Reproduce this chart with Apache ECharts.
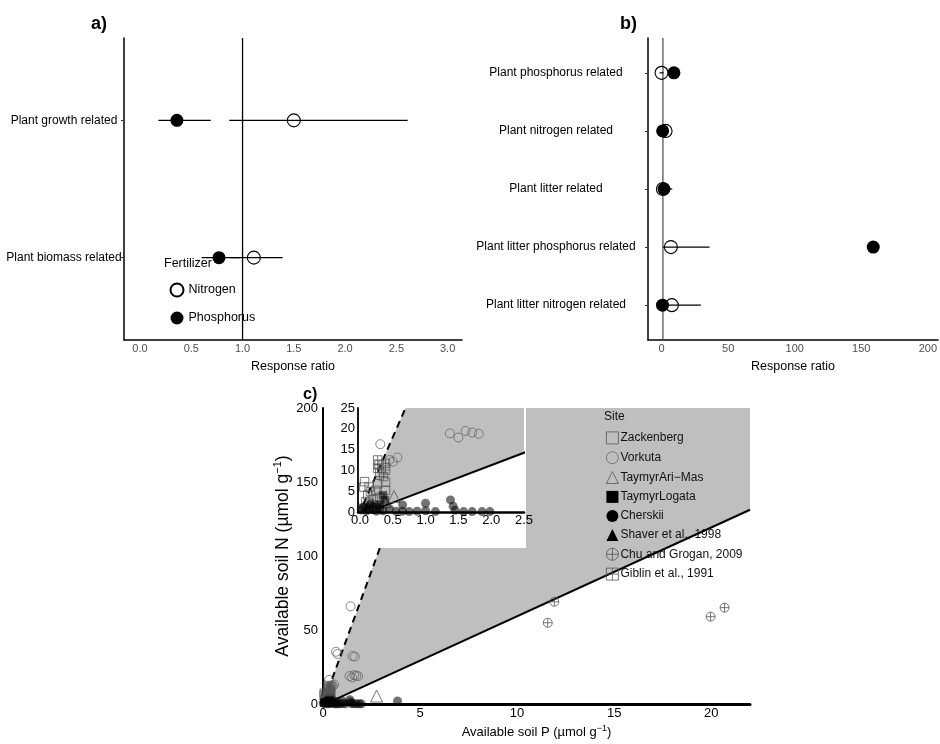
<!DOCTYPE html>
<html>
<head>
<meta charset="utf-8">
<script src="https://cdn.jsdelivr.net/npm/echarts@6/dist/echarts.min.js"></script>
<style>
html,body{margin:0;padding:0;background:#fff;}
#chart{width:940px;height:744px;}
</style>
</head>
<body>
<div id="chart"></div>
<script>
// ================= DATA =================
// Panel a (index 0 -> bottom row)
const catsA = ['Plant biomass related', 'Plant growth related'];
const nitrogenA = [1.11, 1.50];
const nitrogenALo = [0.88, 0.87];
const nitrogenAHi = [1.39, 2.61];
const phosphorusA = [0.77, 0.36];
const phosphorusALo = [0.60, 0.18];
const phosphorusAHi = [0.97, 0.69];
const ticksA = [0, 0.5, 1, 1.5, 2, 2.5, 3];
const refA = 1;

// Panel b (index 0 -> bottom row)
const catsB = ['Plant litter nitrogen related', 'Plant litter phosphorus related', 'Plant litter related', 'Plant nitrogen related', 'Plant phosphorus related'];
const nitrogenB = [7.7, 7.0, 1.0, 3.0, 0.0];
const nitrogenBLo = [0.5, 1.0, 0.0, 1.5, -1.5];
const nitrogenBHi = [29.5, 36.0, 2.0, 4.5, 1.5];
const phosphorusB = [0.7, 159, 1.8, 0.8, 9.3];
const phosphorusBLo = [0.0, 158, -1.0, 0.0, 8.0];
const phosphorusBHi = [1.5, 160, 8.0, 1.6, 10.5];
const ticksB = [0, 50, 100, 150, 200];
const refB = 1;

// Panel c : available soil P (x) vs available soil N (y)
const siteNames = ['Zackenberg', 'Vorkuta', 'TaymyrAri\u2212Mas', 'TaymyrLogata', 'Cherskii', 'Shaver et al., 1998', 'Chu and Grogan, 2009', 'Giblin et al., 1991'];
const zackenberg = [[0.07,7.3],[0.06,6.0],[0.14,6.0],[0.16,4.9],[0.24,5.2],[0.27,6.8],[0.39,7.2],[0.39,5.2],[0.12,4.1],[0.09,2.5],[0.20,3.0],[0.30,3.5]];
const vorkuta = [[0.31,16.3],[0.45,12.5],[0.50,12.1],[0.57,13.1],[0.67,35.3],[0.75,33.8],[1.42,66.0],[1.52,32.4],[1.64,32.0],[1.37,18.9],[1.50,17.9],[1.61,19.5],[1.71,19.1],[1.81,18.8]];
const taymyrAriMas = [[2.76,5.4],[0.52,3.7],[0.38,2.5]];
const taymyrLogata = [[0.35,4.0],[0.38,2.8],[0.30,1.8],[0.05,1.0],[0.15,0.8],[0.25,1.2]];
const cherskii = [[0.02,0.5],[0.06,1.2],[0.10,0.3],[0.15,1.8],[0.20,0.6],[0.25,0.2],[0.30,0.9],[0.35,0.3],[0.45,0.8],[0.55,0.2],[0.65,1.7],[0.65,0.2],[0.75,0.1],[0.87,0.2],[1.00,2.1],[1.00,0.3],[1.15,0.1],[1.38,2.9],[1.42,1.4],[1.45,0.4],[1.58,0.1],[1.71,0.1],[1.86,0.1],[1.98,0.1],[3.84,2.0]];
const shaver = [[0.12,1.5],[0.20,2.2]];
const chuGrogan = [[11.58,54.9],[11.92,69.1],[19.97,59.0],[20.69,65.1]];
const giblin = [[0.27,12.5],[0.29,11.3],[0.39,11.7],[0.39,10.1],[0.27,10.5],[0.30,9.5],[0.36,8.5]];
const siteData = [zackenberg, vorkuta, taymyrAriMas, taymyrLogata, cherskii, shaver, chuGrogan, giblin];

// N:P boundary lines (data space end points)
const dashedLineC = [[0.05, 1.8], [5.56, 200]];
const solidLineC = [[0.30, 1.05], [22, 131.25]];
// shaded region vertices
const shadeC = [[0.05, 1.8], [5.56, 200], [22, 200], [22, 131.25], [0.30, 1.05]];
const ticksCx = [0, 5, 10, 15, 20];
const ticksCy = [0, 50, 100, 150, 200];
const ticksInsetX = [0, 0.5, 1, 1.5, 2, 2.5];
const ticksInsetY = [0, 5, 10, 15, 20, 25];

// ================= FONTS =================
function fontAvailable(name) {
  const c = document.createElement('canvas').getContext('2d');
  const s = 'Plant litter phosphorus related 0123';
  c.font = '30px monospace'; const w1 = c.measureText(s).width;
  c.font = '30px serif'; const w2 = c.measureText(s).width;
  c.font = '30px "' + name + '", monospace'; const a = c.measureText(s).width;
  c.font = '30px "' + name + '", serif'; const b = c.measureText(s).width;
  return a !== w1 || b !== w2;
}
const hasNarrow = fontAvailable('Liberation Sans Narrow');
const NF = hasNarrow ? 'Liberation Sans Narrow' : 'Liberation Sans';
const ns = n => hasNarrow ? n : Math.round(n * 0.84 * 2) / 2;
const RF = 'Liberation Sans';

// ================= HELPERS =================
const SQ_PLUS = 'path://M-10,-10 L10,-10 L10,10 L-10,10 Z M-10,0 L10,0 M0,-10 L0,10';
const CI_PLUS = 'path://M0,-10 A10,10 0 1,1 0,10 A10,10 0 1,1 0,-10 Z M-10,0 L10,0 M0,-10 L0,10';
const siteStyle = [
  {symbol: 'rect', size: 8.5, itemStyle: {color: 'rgba(0,0,0,0)', borderColor: '#555', borderWidth: 0.8, opacity: 1}},
  {symbol: 'circle', size: 9, itemStyle: {color: 'rgba(0,0,0,0)', borderColor: '#666', borderWidth: 0.8, opacity: 1}},
  {symbol: 'triangle', size: 12, itemStyle: {color: 'rgba(0,0,0,0)', borderColor: '#555', borderWidth: 0.8, opacity: 1}},
  {symbol: 'rect', size: 8.5, itemStyle: {color: '#000', opacity: 0.55}},
  {symbol: 'circle', size: 9, itemStyle: {color: '#000', opacity: 0.55}},
  {symbol: 'triangle', size: 10, itemStyle: {color: '#000', opacity: 0.6}},
  {symbol: CI_PLUS, size: 9, itemStyle: {color: 'rgba(0,0,0,0)', borderColor: '#555', borderWidth: 0.8, opacity: 1}},
  {symbol: SQ_PLUS, size: 8.5, itemStyle: {color: 'rgba(0,0,0,0)', borderColor: '#555', borderWidth: 0.8, opacity: 1}}
];

function clipPoly(poly, ext) {
  // Sutherland-Hodgman against axis-aligned box in data space
  const [x0, x1, y0, y1] = ext;
  const edges = [
    [p => p[0] >= x0, (a, b) => { const t = (x0 - a[0]) / (b[0] - a[0]); return [x0, a[1] + t * (b[1] - a[1])]; }],
    [p => p[0] <= x1, (a, b) => { const t = (x1 - a[0]) / (b[0] - a[0]); return [x1, a[1] + t * (b[1] - a[1])]; }],
    [p => p[1] >= y0, (a, b) => { const t = (y0 - a[1]) / (b[1] - a[1]); return [a[0] + t * (b[0] - a[0]), y0]; }],
    [p => p[1] <= y1, (a, b) => { const t = (y1 - a[1]) / (b[1] - a[1]); return [a[0] + t * (b[0] - a[0]), y1]; }]
  ];
  let out = poly.slice();
  edges.forEach(([inside, inter]) => {
    const inp = out; out = [];
    for (let i = 0; i < inp.length; i++) {
      const cur = inp[i], prev = inp[(i + inp.length - 1) % inp.length];
      if (inside(cur)) { if (!inside(prev)) out.push(inter(prev, cur)); out.push(cur); }
      else if (inside(prev)) out.push(inter(prev, cur));
    }
  });
  return out;
}

function errSeries(name, gi, lo, hi, width) {
  return {
    type: 'custom', name: name, xAxisIndex: gi, yAxisIndex: gi, silent: true, z: 3,
    data: lo.map((l, i) => [l, i + 1, hi[i]]),
    renderItem: function (params, api) {
      const y = api.value(1);
      const a = api.coord([api.value(0), y]);
      const b = api.coord([api.value(2), y]);
      return {type: 'line', shape: {x1: a[0], y1: a[1], x2: b[0], y2: b[1]}, style: {stroke: '#000', lineWidth: width}};
    }
  };
}
function refLine(gi, x, ymin, ymax, color) {
  return {type: 'line', xAxisIndex: gi, yAxisIndex: gi, silent: true, z: 2, symbol: 'none',
    data: [[x, ymin], [x, ymax]], lineStyle: {color: color, width: 1.3}};
}
function pointSeries(name, gi, vals, filled) {
  return {type: 'scatter', name: name, xAxisIndex: gi, yAxisIndex: gi, z: filled ? 5 : 4, symbol: 'circle', symbolSize: 13,
    data: vals.map((v, i) => [v, i + 1]),
    itemStyle: filled ? {color: '#000', opacity: 1} : {color: 'rgba(0,0,0,0)', borderColor: '#000', borderWidth: 1.1, opacity: 1}};
}
function shadeSeries(gi, ext, z) {
  const poly = clipPoly(shadeC, ext);
  return {type: 'custom', xAxisIndex: gi, yAxisIndex: gi, silent: true, z: z, data: [[0, 0]],
    renderItem: function (params, api) {
      return {type: 'polygon', shape: {points: poly.map(p => api.coord(p))}, style: {fill: '#bfbfbf'}};
    }};
}
function boundSeries(gi, pts, dashed, z) {
  return {type: 'line', xAxisIndex: gi, yAxisIndex: gi, silent: true, z: z, symbol: 'none', data: pts,
    lineStyle: {color: '#000', width: 2, type: dashed ? [7, 5] : 'solid'}};
}

const baseAxis = (o) => Object.assign({
  type: 'value', splitLine: {show: false}, axisTick: {show: false},
  axisLine: {show: true, onZero: false, lineStyle: {color: '#000', width: 1.5}}
}, o);

const extC = [0, 22, 0, 200];
const extInset = [-0.03, 2.5, 0, 25];

const series = [];
// panel a
series.push(refLine(0, refA, 0.4, 2.6, '#000'));
series.push(errSeries('errNA', 0, nitrogenALo, nitrogenAHi, 1.4));
series.push(errSeries('errPA', 0, phosphorusALo, phosphorusAHi, 1.4));
series.push(pointSeries('Nitrogen', 0, nitrogenA, false));
series.push(pointSeries('Phosphorus', 0, phosphorusA, true));
// panel b
series.push(refLine(1, refB, 0.4, 5.6, '#555'));
series.push(errSeries('errNB', 1, nitrogenBLo, nitrogenBHi, 1.2));
series.push(errSeries('errPB', 1, phosphorusBLo, phosphorusBHi, 1.2));
series.push(pointSeries('Nitrogen', 1, nitrogenB, false));
series.push(pointSeries('Phosphorus', 1, phosphorusB, true));
// panel c main
series.push(shadeSeries(2, extC, 1));
series.push(boundSeries(2, dashedLineC, true, 2));
series.push(boundSeries(2, solidLineC, false, 2));
siteNames.forEach((n, i) => {
  const st = siteStyle[i];
  series.push({type: 'scatter', name: n, xAxisIndex: 2, yAxisIndex: 2, z: 3, symbol: st.symbol, symbolSize: st.size, itemStyle: st.itemStyle, data: siteData[i]});
});
// inset
series.push(shadeSeries(3, extInset, 11));
series.push(boundSeries(3, dashedLineC, true, 12));
series.push(boundSeries(3, solidLineC, false, 12));
siteNames.forEach((n, i) => {
  const st = siteStyle[i];
  series.push({type: 'scatter', name: n, xAxisIndex: 3, yAxisIndex: 3, z: 13, symbol: st.symbol, symbolSize: st.size, itemStyle: st.itemStyle, data: siteData[i], clip: true});
});

const tickLbl = (vals, fmt, size, fam, color, margin) => ({
  customValues: vals, formatter: fmt, fontSize: size, fontFamily: fam, color: color, margin: margin
});

const nameRich = {
  t: {fontSize: 13, fontFamily: RF, color: '#000', lineHeight: 17},
  s: {fontSize: 9, fontFamily: RF, color: '#000', verticalAlign: 'top', lineHeight: 9}
};
const nameRichY = {
  t: {fontSize: 17.5, fontFamily: RF, color: '#000', lineHeight: 21},
  s: {fontSize: 11, fontFamily: RF, color: '#000', verticalAlign: 'top', lineHeight: 11}
};

const option = {
  animation: false,
  backgroundColor: '#fff',
  grid: [
    {left: 124, top: 38, width: 338, height: 302},
    {left: 648, top: 38, width: 292, height: 302},
    {left: 323, top: 408, width: 427, height: 296},
    {left: 358, top: 408, width: 166, height: 104, z: 14}
  ],
  xAxis: [
    baseAxis({gridIndex: 0, min: -0.156, max: 3.14,
      axisLabel: tickLbl(ticksA, v => v.toFixed(1), ns(13), NF, '#4d4d4d', 3),
      name: 'Response ratio', nameLocation: 'middle', nameGap: 20,
      nameTextStyle: {fontSize: ns(15), fontFamily: NF, color: '#000'}}),
    baseAxis({gridIndex: 1, min: -10.2, max: 207.7,
      axisLabel: tickLbl(ticksB, v => String(v), ns(13), NF, '#4d4d4d', 3),
      name: 'Response ratio', nameLocation: 'middle', nameGap: 20,
      nameTextStyle: {fontSize: ns(15), fontFamily: NF, color: '#000'}}),
    baseAxis({gridIndex: 2, min: 0, max: 22,
      axisLine: {show: true, onZero: false, lineStyle: {color: '#000', width: 3}},
      axisLabel: tickLbl(ticksCx, v => String(v), 13, NF, '#000', 3),
      name: '{t|Available soil P (\u00b5mol g}{s|\u22121}{t|)}', nameLocation: 'middle', nameGap: 20,
      nameTextStyle: {rich: nameRich}}),
    baseAxis({gridIndex: 3, min: -0.03, max: 2.5, z: 14,
      axisLine: {show: true, onZero: false, lineStyle: {color: '#000', width: 2.5}},
      axisLabel: tickLbl(ticksInsetX, v => v.toFixed(1), 13, NF, '#000', 2)})
  ],
  yAxis: [
    baseAxis({gridIndex: 0, min: 0.4, max: 2.6,
      axisTick: {show: true, customValues: [1, 2], length: 3, lineStyle: {color: '#333'}},
      axisLabel: Object.assign(tickLbl([1, 2], v => catsA[Math.round(v) - 1], ns(14), NF, '#000', 60), {align: 'center'})}),
    baseAxis({gridIndex: 1, min: 0.4, max: 5.6,
      axisTick: {show: true, customValues: [1, 2, 3, 4, 5], length: 3, lineStyle: {color: '#333'}},
      axisLabel: Object.assign(tickLbl([1, 2, 3, 4, 5], v => catsB[Math.round(v) - 1], ns(14), NF, '#000', 92), {align: 'center'})}),
    baseAxis({gridIndex: 2, min: 0, max: 200,
      axisLine: {show: true, onZero: false, lineStyle: {color: '#000', width: 2}},
      axisLabel: tickLbl(ticksCy, v => String(v), 13, NF, '#000', 5),
      name: '{t|Available soil N (\u00b5mol g}{s|\u22121}{t|)}', nameLocation: 'middle', nameGap: 26, nameRotate: 90,
      nameTextStyle: {rich: nameRichY}}),
    baseAxis({gridIndex: 3, min: 0, max: 25, z: 14,
      axisLine: {show: true, onZero: false, lineStyle: {color: '#000', width: 1.8}},
      axisLabel: tickLbl(ticksInsetY, v => String(v), 13, NF, '#000', 3)})
  ],
  legend: [
    {left: 169.5, top: 282.5, padding: 0, orient: 'vertical', itemWidth: 13, itemHeight: 13, itemGap: 14, selectedMode: false,
      textStyle: {fontSize: ns(15), fontFamily: NF, color: '#000'},
      data: [{name: 'Nitrogen'}, {name: 'Phosphorus'}]},
    {left: 606, top: 431.5, padding: 0, orient: 'vertical', itemWidth: 12, itemHeight: 12, itemGap: 7, selectedMode: false, z: 20,
      textStyle: {fontSize: 12, fontFamily: RF, color: '#111', padding: [0, 0, 0, -3]},
      itemStyle: {borderWidth: 0.8},
      data: siteNames.map(n => ({name: n, itemStyle: {opacity: 1}}))}
  ],
  graphic: [
    {type: 'text', z: 20, left: 91, top: 15, style: {text: 'a)', font: 'bold 18px "' + NF + '"', fill: '#000'}},
    {type: 'text', z: 20, left: 620, top: 15, style: {text: 'b)', font: 'bold 18px "' + NF + '"', fill: '#000'}},
    {type: 'text', z: 20, left: 303, top: 387, style: {text: 'c)', font: 'bold 16px "' + NF + '"', fill: '#000'}},
    {type: 'text', z: 20, left: 164, top: 257, style: {text: 'Fertilizer', font: ns(15) + 'px "' + NF + '"', fill: '#000'}},
    {type: 'text', z: 20, left: 604, top: 411, style: {text: 'Site', font: '12px "' + RF + '"', fill: '#111'}},
    {type: 'rect', z: 10, shape: {x: 334, y: 394, width: 192, height: 154}, style: {fill: '#fff'}, silent: true}
  ],
  series: series
};

const chart = echarts.init(document.getElementById('chart'), null, {renderer: 'canvas', width: 940, height: 744});
chart.setOption(option);
</script>
</body>
</html>
